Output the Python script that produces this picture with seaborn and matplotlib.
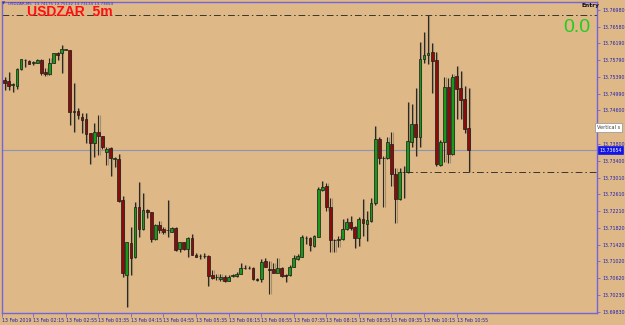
import numpy as np
import matplotlib
matplotlib.use("Agg")
import matplotlib.pyplot as plt
import seaborn as sns

# ---------------- data (USDZAR, M5, 13 Feb 2019) ----------------
opens = [13.75321, 13.75304, 13.75195, 13.75186, 13.75582, 13.75802, 13.75771, 13.75724, 13.75731, 13.75802,
         13.75518, 13.75463, 13.75731, 13.75968, 13.75954, 13.76042, 13.76032, 13.74577, 13.74586, 13.74451,
         13.74390, 13.74065, 13.73835, 13.74089, 13.73994, 13.73608, 13.73709, 13.73458, 13.73442, 13.72477,
         13.70707, 13.71451, 13.71119, 13.72304, 13.71797, 13.72240, 13.72186, 13.71546, 13.71885, 13.71783,
         13.71759, 13.71726, 13.71813, 13.71316, 13.71475, 13.71316, 13.71576, 13.71181, 13.71143, 13.71157,
         13.71150, 13.70707, 13.70645, 13.70612, 13.70659, 13.70564, 13.70676, 13.70683, 13.70730, 13.70865,
         13.70877, 13.70873, 13.70602, 13.70598, 13.71031, 13.70842, 13.70835, 13.70754, 13.70873, 13.70697,
         13.70692, 13.70896, 13.71072, 13.71133, 13.71588, 13.71569, 13.71387, 13.71607, 13.72714, 13.72809,
         13.72304, 13.71522, 13.71539, 13.71546, 13.71783, 13.71949, 13.71844, 13.71584, 13.72027, 13.71901,
         13.71986, 13.72399, 13.73923, 13.73472, 13.73465, 13.73804, 13.73093, 13.72494, 13.73134, 13.73148,
         13.73859, 13.74278, 13.73977, 13.75812, 13.75906, 13.75978, 13.75795, 13.73307, 13.73859, 13.75148,
         13.73567, 13.75416, 13.75124, 13.74871, 13.74175]
highs = [13.75399, 13.75503, 13.75243, 13.75605, 13.75826, 13.75819, 13.75795, 13.75771, 13.75819, 13.75819,
         13.75598, 13.75835, 13.75968, 13.75992, 13.76143, 13.76063, 13.76044, 13.75243, 13.74650, 13.74532,
         13.74546, 13.74072, 13.74295, 13.74492, 13.74001, 13.73740, 13.73740, 13.73496, 13.73567, 13.72579,
         13.71489, 13.71844, 13.72437, 13.72897, 13.72636, 13.72264, 13.72200, 13.71908, 13.71979, 13.71830,
         13.72477, 13.71830, 13.71844, 13.71489, 13.71489, 13.71593, 13.71671, 13.71228, 13.71190, 13.71214,
         13.71166, 13.70818, 13.70723, 13.70723, 13.70692, 13.70692, 13.70723, 13.70764, 13.70977, 13.70929,
         13.70913, 13.70889, 13.70621, 13.71072, 13.71095, 13.71024, 13.70977, 13.71095, 13.70896, 13.70723,
         13.70937, 13.71174, 13.71190, 13.71648, 13.71624, 13.71593, 13.71648, 13.72792, 13.72927, 13.72873,
         13.72517, 13.71546, 13.71624, 13.72027, 13.72058, 13.72098, 13.71861, 13.72067, 13.72501, 13.72223,
         13.72517, 13.74231, 13.73977, 13.73520, 13.73977, 13.74096, 13.73228, 13.73228, 13.73283, 13.74807,
         13.74752, 13.75124, 13.76229, 13.76452, 13.76862, 13.76191, 13.75992, 13.73899, 13.75399, 13.75361,
         13.75463, 13.75653, 13.75541, 13.75186, 13.75132]
lows = [13.75084, 13.75084, 13.75044, 13.75108, 13.75565, 13.75636, 13.75693, 13.75669, 13.75717, 13.75447,
        13.75416, 13.75447, 13.75717, 13.75795, 13.75494, 13.76025, 13.74255, 13.74096, 13.74397, 13.74072,
        13.73821, 13.73330, 13.73489, 13.73544, 13.73679, 13.73299, 13.73053, 13.73271, 13.72437, 13.70645,
        13.69948, 13.70707, 13.71095, 13.71607, 13.71766, 13.72043, 13.71489, 13.71529, 13.71688, 13.71671,
        13.71607, 13.71719, 13.71275, 13.71238, 13.71292, 13.71133, 13.71166, 13.71119, 13.71072, 13.71095,
        13.70439, 13.70612, 13.70581, 13.70564, 13.70541, 13.70557, 13.70645, 13.70645, 13.70723, 13.70835,
        13.70835, 13.70581, 13.70550, 13.70541, 13.70882, 13.70249, 13.70740, 13.70740, 13.70659, 13.70541,
        13.70683, 13.70882, 13.71055, 13.71119, 13.71434, 13.71275, 13.71370, 13.71593, 13.72697, 13.72223,
        13.71238, 13.71238, 13.71356, 13.71529, 13.71766, 13.71766, 13.71347, 13.71387, 13.71631, 13.71512,
        13.71963, 13.72351, 13.73330, 13.72304, 13.73442, 13.72816, 13.71939, 13.72477, 13.72532, 13.73124,
        13.73726, 13.73520, 13.73726, 13.75717, 13.75700, 13.75020, 13.73290, 13.73290, 13.73385, 13.73347,
        13.73544, 13.74390, 13.74390, 13.74058, 13.73134]
closes = [13.75257, 13.75186, 13.75219, 13.75589, 13.75812, 13.75788, 13.75700, 13.75738, 13.75802, 13.75494,
          13.75456, 13.75731, 13.75954, 13.75914, 13.76056, 13.76056, 13.74556, 13.74563, 13.74492, 13.74373,
          13.74048, 13.73835, 13.74089, 13.73994, 13.73740, 13.73686, 13.73465, 13.73470, 13.72460, 13.70754,
          13.71475, 13.71095, 13.72304, 13.71797, 13.72240, 13.72186, 13.71546, 13.71885, 13.71766, 13.71726,
          13.71771, 13.71813, 13.71292, 13.71475, 13.71316, 13.71576, 13.71181, 13.71133, 13.71155, 13.71145,
          13.70683, 13.70628, 13.70657, 13.70659, 13.70564, 13.70659, 13.70688, 13.70730, 13.70858, 13.70877,
          13.70865, 13.70605, 13.70591, 13.71008, 13.70896, 13.70828, 13.70754, 13.70858, 13.70676, 13.70685,
          13.70896, 13.71110, 13.71150, 13.71593, 13.71576, 13.71411, 13.71624, 13.72738, 13.72778, 13.72304,
          13.71529, 13.71534, 13.71550, 13.71790, 13.71949, 13.71821, 13.71584, 13.72027, 13.71925, 13.72003,
          13.72399, 13.73923, 13.73465, 13.73461, 13.73845, 13.73093, 13.72494, 13.73134, 13.73145, 13.73882,
          13.74278, 13.73977, 13.75812, 13.75906, 13.75954, 13.75771, 13.73323, 13.73859, 13.75148, 13.73567,
          13.75385, 13.75101, 13.74847, 13.74167, 13.73654]

time_labels = ["13 Feb 2019", "13 Feb 02:15", "13 Feb 02:55", "13 Feb 03:35", "13 Feb 04:15",
               "13 Feb 04:55", "13 Feb 05:35", "13 Feb 06:15", "13 Feb 06:55", "13 Feb 07:35",
               "13 Feb 08:15", "13 Feb 08:55", "13 Feb 09:35", "13 Feb 10:15", "13 Feb 10:55"]
# 13.74200 is hidden under the "Vertical s" tooltip in the reference
price_ticks = [13.76980, 13.76580, 13.76190, 13.75790, 13.75390, 13.74990, 13.74600,
               13.73800, 13.73400, 13.73010, 13.72610, 13.72210, 13.71820, 13.71420, 13.71020,
               13.70620, 13.70230, 13.69830]
tooltip_price = 13.74200
header_text = "USDZAR,M5  13.74175 13.75132 13.73134 13.73654"
title_text = "USDZAR  5m"
counter_text = "0.0"

# ---------------- styling ----------------
sns.set_style("ticks")
plt.rcParams['font.family'] = ['DejaVu Sans']

BG = '#DEB887'
FRAME = '#7464dc'
LABEL = '#2222b0'
UP = '#17991a'
DOWN = '#8a0c0c'

fig = plt.figure(figsize=(6.25, 3.25), dpi=100, facecolor=BG)
ax = fig.add_axes([2 / 625, 12 / 325, 595 / 625, 311 / 325])
ax.set_facecolor(BG)

o = np.array(opens)
h = np.array(highs)
l = np.array(lows)
c = np.array(closes)
idx = np.arange(len(o))
up = c >= o

# bid line
ax.axhline(c[-1], color='#8a94b4', lw=0.8, zorder=1)

# wicks (with faint shadow like the MT4 rendering)
ax.vlines(idx + 0.3, l, h, color='#a48f6e', lw=0.8, zorder=1.5)
ax.vlines(idx, l, h, color='#2c2824', lw=0.8, zorder=2)

# bodies
body_bottom = np.minimum(o, c)
body_height = np.maximum(np.abs(c - o), 0.00003)
ax.bar(idx, body_height, bottom=body_bottom, width=0.68,
       color=np.where(up, UP, DOWN), edgecolor='#1c1a18', linewidth=0.5, zorder=3)

x_left, x_right = -0.66, 145.5
ax.set_xlim(x_left, x_right)
ax.set_ylim(13.69799, 13.77170)

# high / low dash-dot lines
ax.axhline(h.max(), color='#3a3430', lw=0.7, dashes=(7, 3, 1.5, 3), zorder=2.5)
ax.hlines(l[-1], 98.5, x_right, color='#3a3430', lw=0.7, linestyles=[(0, (7, 3, 1.5, 3))], zorder=2.5)

# axes
tick_pos = [x_left] + [7 + 8 * k for k in range(len(time_labels) - 1)]
ax.set_xticks(tick_pos)
ax.set_xticklabels(time_labels)
for lab in ax.get_xticklabels():
    lab.set_horizontalalignment('left')
ax.yaxis.tick_right()
ax.set_yticks(price_ticks)
ax.set_yticklabels([f"{v:.5f}" for v in price_ticks])
ax.tick_params(axis='x', length=3, width=0.6, color=FRAME, labelsize=3.4, labelcolor=LABEL, pad=0.8)
ax.tick_params(axis='y', length=2.5, width=0.6, color=FRAME, labelsize=3.4, labelcolor=LABEL, pad=1.2)
for s in ax.spines.values():
    s.set_color(FRAME)
    s.set_linewidth(1.0)
ax.grid(False)

# overlays
fig.text(27 / 625, 1 - 16.3 / 325, title_text, color='#ff1010', fontsize=10, fontweight='bold',
         family=['Liberation Sans', 'DejaVu Sans'], va='baseline', ha='left')
fig.text(2 / 625, 1 - 3.6 / 325, "\u25bc", color='#3030c0', fontsize=3, va='center', ha='left')
fig.text(8 / 625, 1 - 3.6 / 325, header_text, color='#3030c0', fontsize=2.9, va='center', ha='left')
fig.text(563 / 625, 1 - 32 / 325, counter_text, color='#22cc22', fontsize=14,
         family=['Liberation Sans', 'DejaVu Sans'], va='baseline', ha='left')
fig.text(582 / 625, 1 - 5.8 / 325, "Entry", color='#111111', fontsize=4.2, fontweight='bold',
         va='center', ha='left')

ax.text(1.0, tooltip_price, "Vertical s", transform=ax.get_yaxis_transform(), fontsize=3.6,
        color='#404040', va='center', ha='left', clip_on=False, zorder=10,
        bbox=dict(boxstyle='square,pad=0.35', facecolor='white', edgecolor='#909090', linewidth=0.5))
ax.text(1.004, c[-1], f"{c[-1]:.5f}", transform=ax.get_yaxis_transform(), fontsize=3.4,
        color='white', va='center', ha='left', clip_on=False, zorder=10,
        bbox=dict(boxstyle='square,pad=0.3', facecolor='#1414e6', edgecolor='#1414e6', linewidth=0.5))

fig.savefig("out.png", dpi=100, facecolor=BG)
